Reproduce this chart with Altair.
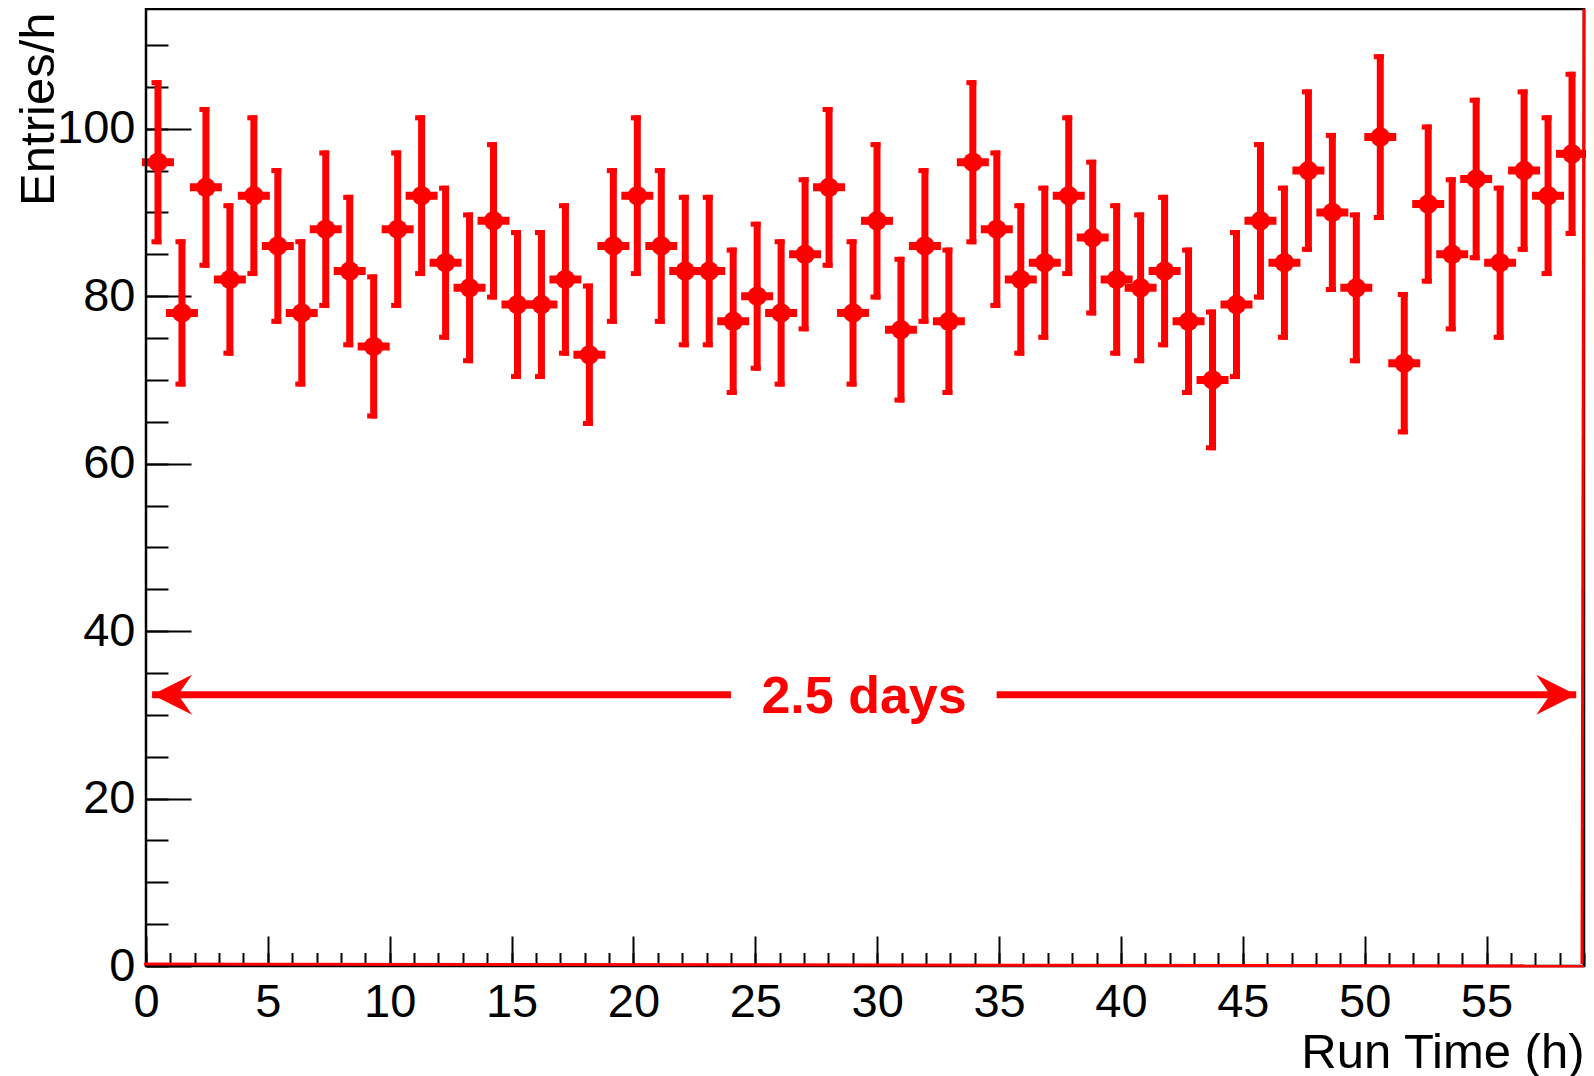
import altair as alt
import pandas as pd

# ---- data ----
counts = [96, 78, 93, 82, 92, 86, 78, 88, 83, 74, 88, 92, 84, 81, 89, 79, 79, 82, 73, 86,
          92, 86, 83, 83, 77, 80, 78, 85, 93, 78, 89, 76, 86, 77, 96, 88, 82, 84, 92, 87,
          82, 81, 83, 77, 70, 79, 89, 84, 95, 90, 81, 99, 72, 91, 85, 94, 84, 95, 92, 97]
errors = [9.8, 8.8, 9.6, 9.1, 9.6, 9.3, 8.8, 9.4, 9.1, 8.6, 9.4, 9.6, 9.2, 9.0, 9.4, 8.9, 8.9, 9.1, 8.5, 9.3,
          9.6, 9.3, 9.1, 9.1, 8.8, 8.9, 8.8, 9.2, 9.6, 8.8, 9.4, 8.7, 9.3, 8.8, 9.8, 9.4, 9.1, 9.2, 9.6, 9.3,
          9.1, 9.0, 9.1, 8.8, 8.4, 8.9, 9.4, 9.2, 9.7, 9.5, 9.0, 9.9, 8.5, 9.5, 9.2, 9.7, 9.2, 9.7, 9.6, 9.8]
x_max = 59.0
n_bins = 60
y_max = 114.3
y_major = [0, 20, 40, 60, 80, 100]
y_minor = [0, 5, 10, 15, 20, 25, 30, 35, 40, 45, 50, 55, 60, 65, 70, 75, 80, 85, 90, 95, 100, 105, 110]
x_major = [0, 5, 10, 15, 20, 25, 30, 35, 40, 45, 50, 55]
x_minor = list(range(0, 60))

arrow_y = 32.4
arrow_left = 0.25
arrow_right = 58.68
gap_left = 24.0
gap_right = 34.9
label_x = 29.46
label_text = "2.5 days"

RED = "#ff0000"
FONT = "Liberation Sans"
W, H = 1438, 957

bw = x_max / n_bins
df = pd.DataFrame({
    "lo": [i * bw for i in range(n_bins)],
    "hi": [(i + 1) * bw for i in range(n_bins)],
    "c": [(i + 0.5) * bw for i in range(n_bins)],
    "v": counts,
    "e": errors,
})
df["vlo"] = df["v"] - df["e"]
df["vhi"] = df["v"] + df["e"]

xs = alt.Scale(domain=[0, x_max], nice=False, zero=False)
ys = alt.Scale(domain=[0, y_max], nice=False, zero=False)

x_axis_major = alt.Axis(
    orient="bottom", values=x_major, tickSize=30, offset=-30, domain=False, grid=False,
    tickColor="black", tickWidth=2, labelFont=FONT, labelFontSize=47, labelColor="black",
    labelPadding=13.5, labelFlush=False, labelOverlap=False, format="d",
    title="Run Time (h)", titleFont=FONT, titleFontSize=49, titleFontWeight="normal",
    titleColor="black", titleAnchor="end", titleAlign="right", titleX=W, titleY=131,
    titleBaseline="alphabetic")
y_axis_major = alt.Axis(
    orient="left", values=y_major, tickSize=45, offset=-45, domain=False, grid=False,
    tickColor="black", tickWidth=2, labelFont=FONT, labelFontSize=47, labelColor="black",
    labelPadding=11, labelFlush=False, labelOverlap=False, format="d",
    title="Entries/h", titleFont=FONT, titleFontSize=49, titleFontWeight="normal",
    titleColor="black", titleAnchor="end", titleAlign="right", titleAngle=270,
    titleX=-138, titleY=3, titleBaseline="alphabetic")
x_axis_minor = alt.Axis(orient="bottom", values=x_minor, tickSize=13.5, offset=-13.5,
                        domain=False, grid=False, labels=False, title=None,
                        tickColor="black", tickWidth=2)
y_axis_minor = alt.Axis(orient="left", values=y_minor, tickSize=22, offset=-22,
                        domain=False, grid=False, labels=False, title=None,
                        tickColor="black", tickWidth=2)

base = alt.Chart(df)

xerr = base.mark_rule(color=RED, strokeWidth=8, strokeCap="square").encode(
    x=alt.X("lo:Q", scale=xs, axis=x_axis_major),
    x2="hi:Q",
    y=alt.Y("v:Q", scale=ys, axis=y_axis_major),
)
yerr = base.mark_rule(color=RED, strokeWidth=7).encode(
    x=alt.X("c:Q", scale=xs, axis=None),
    y=alt.Y("vlo:Q", scale=ys, axis=None),
    y2="vhi:Q",
)
cap_top = base.mark_tick(color=RED, orient="horizontal", size=10, thickness=5,
                         xOffset=-1.5, yOffset=2.5, opacity=1).encode(
    x=alt.X("c:Q", scale=xs, axis=None),
    y=alt.Y("vhi:Q", scale=ys, axis=None),
)
cap_bot = base.mark_tick(color=RED, orient="horizontal", size=10, thickness=5,
                         xOffset=-1.5, yOffset=-2.5, opacity=1).encode(
    x=alt.X("c:Q", scale=xs, axis=None),
    y=alt.Y("vlo:Q", scale=ys, axis=None),
)
marker = base.mark_point(shape="circle", filled=True, size=380, color=RED, opacity=1,
                         strokeWidth=0).encode(
    x=alt.X("c:Q", scale=xs, axis=None),
    y=alt.Y("v:Q", scale=ys, axis=None),
)

minor = base.mark_point(opacity=0).encode(
    x=alt.X("c:Q", scale=xs, axis=x_axis_minor),
    y=alt.Y("v:Q", scale=ys, axis=y_axis_minor),
)

frame_df = pd.DataFrame({"x": [0.0], "x2": [x_max], "y": [0.0], "y2": [y_max]})
frame = alt.Chart(frame_df).mark_rect(fillOpacity=0, stroke="#000000", strokeWidth=2.5).encode(
    x=alt.X("x:Q", scale=xs, axis=None), x2="x2:Q",
    y=alt.Y("y:Q", scale=ys, axis=None), y2="y2:Q",
)

edge_df = pd.DataFrame({"x": [0.0, x_max], "x2": [x_max, x_max], "y": [0.0, 0.0], "y2": [0.0, y_max]})
edges = alt.Chart(edge_df).mark_rule(color=RED, strokeWidth=3, xOffset=-2, yOffset=-2).encode(
    x=alt.X("x:Q", scale=xs, axis=None), x2="x2:Q",
    y=alt.Y("y:Q", scale=ys, axis=None), y2="y2:Q",
)

seg_df = pd.DataFrame({"x": [arrow_left, gap_right], "x2": [gap_left, arrow_right],
                       "y": [arrow_y, arrow_y]})
segs = alt.Chart(seg_df).mark_rule(color=RED, strokeWidth=7).encode(
    x=alt.X("x:Q", scale=xs, axis=None), x2="x2:Q",
    y=alt.Y("y:Q", scale=ys, axis=None),
)
head_l = alt.Chart(pd.DataFrame({"x": [arrow_left], "y": [arrow_y]})).mark_point(
    shape="M-1,0L1,-1L0.3,0L1,1Z", size=1600, filled=True, color=RED, opacity=1,
    strokeWidth=0, xOffset=20).encode(
    x=alt.X("x:Q", scale=xs, axis=None), y=alt.Y("y:Q", scale=ys, axis=None))
head_r = alt.Chart(pd.DataFrame({"x": [arrow_right], "y": [arrow_y]})).mark_point(
    shape="M1,0L-1,-1L-0.3,0L-1,1Z", size=1600, filled=True, color=RED, opacity=1,
    strokeWidth=0, xOffset=-20).encode(
    x=alt.X("x:Q", scale=xs, axis=None), y=alt.Y("y:Q", scale=ys, axis=None))
label = alt.Chart(pd.DataFrame({"x": [label_x], "y": [arrow_y], "t": [label_text]})).mark_text(
    font=FONT, fontSize=52, fontWeight="bold", color=RED, align="center", baseline="middle",
    dy=2).encode(
    x=alt.X("x:Q", scale=xs, axis=None), y=alt.Y("y:Q", scale=ys, axis=None), text="t:N")

chart = alt.layer(
    xerr, minor, frame, yerr, cap_top, cap_bot, marker, edges, segs, head_l, head_r, label
).resolve_axis(x="independent", y="independent").properties(
    width=W, height=H,
    autosize=alt.AutoSizeParams(type="none"),
    padding={"left": 138, "top": 1, "right": 2, "bottom": 110},
).configure_view(stroke="#000000", strokeWidth=2.5).configure(background="white")

chart.save("out.html", embed_options={"renderer": "svg", "actions": False})
